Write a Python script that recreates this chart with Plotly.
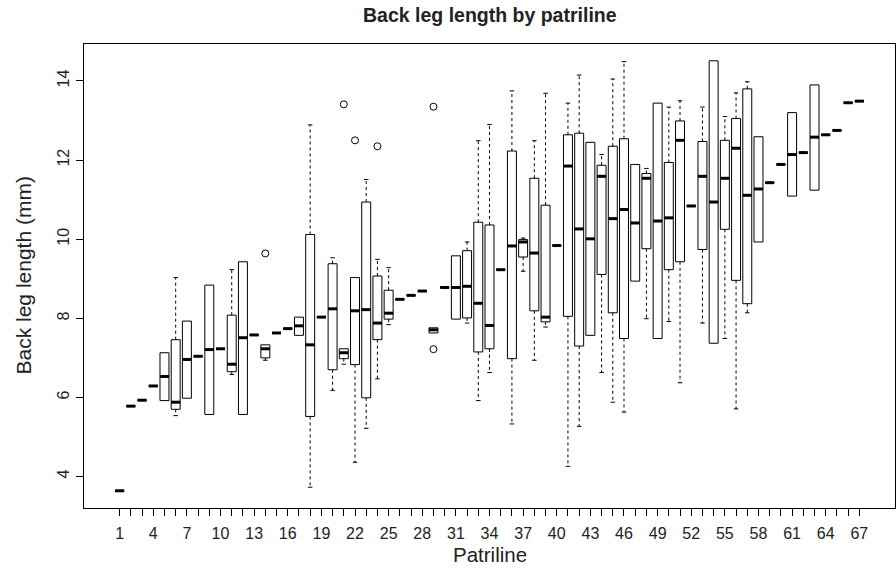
import plotly.graph_objects as go

# ---------------- data ----------------
patriline = list(range(1, 68))

q1 = [3.64, 5.78, 5.93, 6.29, 5.92, 5.70, 5.98, 7.04, 5.57, 7.23,
      6.65, 5.57, 7.58, 7.00, 7.63, 7.74, 7.57, 5.52, 8.03, 6.70,
      6.98, 6.83, 5.99, 7.46, 7.98, 8.48, 8.58, 8.69, 7.63, 8.78,
      7.98, 8.01, 7.15, 7.23, 9.23, 6.98, 9.55, 8.19, 7.91, 9.84,
      8.05, 7.30, 7.57, 9.11, 8.14, 7.49, 8.94, 9.76, 7.49, 9.23,
      9.43, 10.84, 9.74, 7.37, 10.25, 8.96, 8.37, 9.93, 11.43, 11.89,
      11.09, 12.19, 11.24, 12.64, 12.75, 13.45, 13.49]

median = [3.64, 5.78, 5.93, 6.29, 6.53, 5.88, 6.96, 7.04, 7.21, 7.23,
          6.84, 7.51, 7.58, 7.23, 7.63, 7.74, 7.81, 7.33, 8.03, 8.24,
          7.13, 8.19, 8.22, 7.88, 8.13, 8.48, 8.58, 8.69, 7.71, 8.78,
          8.78, 8.81, 8.38, 7.82, 9.23, 9.83, 9.93, 9.65, 8.03, 9.84,
          11.85, 10.26, 10.01, 11.59, 10.52, 10.75, 10.41, 11.54, 10.46, 10.54,
          12.50, 10.84, 11.59, 10.94, 11.54, 12.30, 11.11, 11.27, 11.43, 11.89,
          12.14, 12.19, 12.58, 12.64, 12.75, 13.45, 13.49]

q3 = [3.64, 5.78, 5.93, 6.29, 7.13, 7.46, 7.93, 7.04, 8.84, 7.23,
      8.08, 9.43, 7.58, 7.33, 7.63, 7.74, 8.03, 10.12, 8.03, 9.38,
      7.23, 9.03, 10.94, 9.07, 8.71, 8.48, 8.58, 8.69, 7.76, 8.78,
      9.58, 9.71, 10.43, 10.36, 9.23, 12.23, 9.99, 11.54, 10.86, 9.84,
      12.64, 12.68, 12.45, 11.87, 12.35, 12.54, 11.89, 11.66, 13.44, 11.94,
      12.99, 10.84, 12.47, 14.51, 12.50, 13.05, 13.80, 12.59, 11.43, 11.89,
      13.20, 12.19, 13.90, 12.64, 12.75, 13.45, 13.49]

whisker_lo = [None, None, None, None, None, 5.54, None, None, None, None,
              6.58, None, None, 6.94, None, None, None, 3.73, None, 6.18,
              6.84, 4.36, 5.22, 6.47, 7.84, None, None, None, None, None,
              None, 7.88, 5.92, 6.63, None, 5.33, 9.19, 6.94, 7.78, None,
              4.26, 5.27, None, 6.63, 5.88, 5.63, None, 7.99, None, 7.92,
              6.37, None, 7.88, None, 7.49, 5.71, 8.14, None, None, None,
              None, None, None, None, None, None, None]

whisker_hi = [None, None, None, None, None, 9.03, None, None, None, None,
              9.23, None, None, None, None, None, None, 12.89, None, 9.53,
              None, None, 11.51, 9.49, 9.28, None, None, None, None, None,
              None, 9.93, 12.49, 12.90, None, 13.75, 10.03, 12.49, 13.69, None,
              13.44, 14.15, None, 12.14, 14.05, 14.49, None, 11.79, None, 13.34,
              13.50, None, 13.34, None, 13.10, 13.70, 13.98, None, None, None,
              None, None, None, None, None, None, None]

outlier_patriline = [14, 21, 22, 24, 29, 29]
outlier_value = [9.64, 13.41, 12.50, 12.35, 13.35, 7.22]

y_ticks = [4, 6, 8, 10, 12, 14]
x_tick_labels = [str(p) if (p - 1) % 3 == 0 else "" for p in patriline]

# ---------------- figure ----------------
BOX_W = 0.8
HALF = BOX_W / 2
STAPLE = BOX_W / 4
FONT = "Liberation Sans, Arial, Helvetica, sans-serif"

fig = go.Figure()

# box bodies
fig.add_trace(go.Box(
    x=patriline, q1=q1, median=median, q3=q3,
    lowerfence=q1, upperfence=q3,
    width=BOX_W, fillcolor="white",
    line=dict(color="black", width=1),
    whiskerwidth=0, boxpoints=False, showlegend=False, hoverinfo="skip",
))

# whiskers (dashed) and staples (solid)
wx, wy, sx, sy = [], [], [], []
for p, a, b, lo, hi in zip(patriline, q1, q3, whisker_lo, whisker_hi):
    if lo is not None and lo < a:
        wx += [p, p, None]; wy += [a, lo, None]
        sx += [p - STAPLE, p + STAPLE, None]; sy += [lo, lo, None]
    if hi is not None and hi > b:
        wx += [p, p, None]; wy += [b, hi, None]
        sx += [p - STAPLE, p + STAPLE, None]; sy += [hi, hi, None]

fig.add_trace(go.Scatter(x=wx, y=wy, mode="lines",
                         line=dict(color="black", width=1, dash="3px,3px"),
                         showlegend=False, hoverinfo="skip"))
fig.add_trace(go.Scatter(x=sx, y=sy, mode="lines",
                         line=dict(color="black", width=1),
                         showlegend=False, hoverinfo="skip"))

# thick medians
mx, my = [], []
for p, m in zip(patriline, median):
    mx += [p - HALF, p + HALF, None]; my += [m, m, None]
fig.add_trace(go.Scatter(x=mx, y=my, mode="lines",
                         line=dict(color="black", width=3),
                         showlegend=False, hoverinfo="skip"))

# outliers
fig.add_trace(go.Scatter(x=outlier_patriline, y=outlier_value, mode="markers",
                         marker=dict(symbol="circle-open", size=7,
                                     color="black", line=dict(width=1)),
                         showlegend=False, hoverinfo="skip"))

L, R, T, B = 84, 1, 44, 66
W, H = 896, 574
plot_h = H - T - B
plot_w = W - L - R

fig.update_layout(
    width=W, height=H,
    margin=dict(l=L, r=R, t=T, b=B, pad=0),
    paper_bgcolor="white", plot_bgcolor="white",
    font=dict(family=FONT, color="black"),
    showlegend=False,
    xaxis=dict(
        range=[0.5 - 0.04 * 67, 67.5 + 0.04 * 67],
        tickmode="array", tickvals=patriline, ticktext=x_tick_labels,
        ticks="outside", ticklen=7, tickwidth=1, tickcolor="black",
        tickfont=dict(size=16, family=FONT, color="#222"),
        ticklabelstandoff=4,
        showgrid=False, zeroline=False,
        showline=True, linecolor="black", linewidth=1, mirror=True,
    ),
    yaxis=dict(
        range=[3.205, 14.935],
        tickmode="array", tickvals=y_ticks, ticktext=[str(v) for v in y_ticks],
        tickangle=-90,
        ticks="outside", ticklen=7, tickwidth=1, tickcolor="black",
        tickfont=dict(size=16, family=FONT, color="#222"),
        ticklabelstandoff=1,
        showgrid=False, zeroline=False,
        showline=True, linecolor="black", linewidth=1, mirror=True,
    ),
    annotations=[
        dict(text="<b>Back leg length by patriline</b>", xref="paper", yref="paper",
             x=0.5, y=1 + (T - 15) / plot_h, xanchor="center", yanchor="middle",
             showarrow=False, font=dict(size=19.5, family=FONT, color="#222")),
        dict(text="Patriline", xref="paper", yref="paper",
             x=0.5, y=-(554 - (H - B)) / plot_h, xanchor="center", yanchor="middle",
             showarrow=False, font=dict(size=20.5, family=FONT, color="#222")),
        dict(text="Back leg length (mm)", xref="paper", yref="paper",
             x=(22.5 - L) / plot_w, y=0.5, xanchor="center", yanchor="middle",
             textangle=-90, showarrow=False,
             font=dict(size=21, family=FONT, color="#222")),
    ],
)

fig.write_html("out.html")
